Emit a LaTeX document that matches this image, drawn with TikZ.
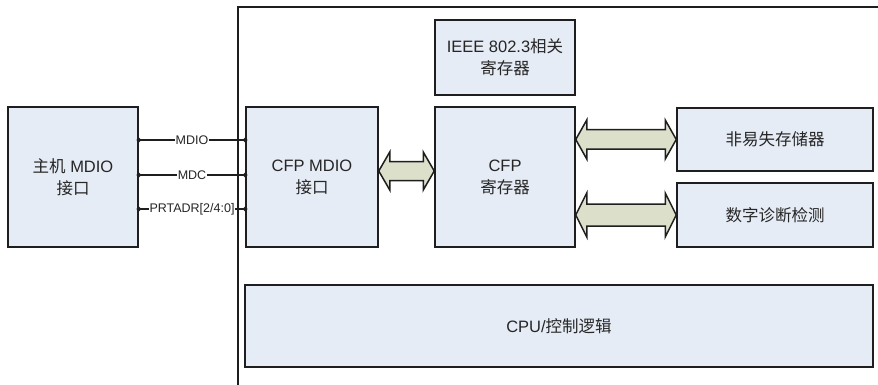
\documentclass[tikz,border=0pt]{standalone}
\usepackage{fontspec}
\setmainfont{Liberation Sans}
\newfontfamily\cjk{Noto Sans CJK SC}
\usetikzlibrary{arrows.meta,calc}
\definecolor{boxfill}{HTML}{E6ECF6}
\definecolor{arrfill}{HTML}{DCDFCA}
\definecolor{edge}{HTML}{1E1E1E}
\newcommand\zh[1]{{\cjk #1}}
% wide double arrow from node #2 to node #3, at the height of #4;
% #1 = half height of the head (shaft is about half of it)
\newcommand\widearrow[4][19]{%
  \coordinate (wa-s) at (#2.east |- #4);
  \coordinate (wa-e) at (#3.west |- #4);
  \draw[fatarr] (wa-s) -- ++(11,-#1) -- ++(0,#1/2) -- ($(wa-e)+(-11,-#1/2)$)
    -- ++(0,-#1/2) -- (wa-e) -- ++(-11,#1) -- ++(0,-#1/2)
    -- ($(wa-s)+(11,#1/2)$) -- ++(0,#1/2) -- cycle;}

\begin{document}
\begin{tikzpicture}[x=1pt,y=-1pt,
  blk/.style={draw=edge,fill=boxfill,line width=1.5pt,align=center,
    inner sep=0pt,text=black!85,font=\fontsize{16.5}{22}\selectfont},
  sig/.style={draw=edge,line width=1.2pt,
    {Circle[length=4.5pt]}-{Circle[length=4.5pt]},
    shorten <=-2.2pt,shorten >=-2.2pt},
  lab/.style={fill=white,inner sep=0.6pt,text=black!85,
    font=\fontsize{12.5}{14}\selectfont},
  fatarr/.style={draw=edge,fill=arrfill,line width=1.5pt,line join=miter}]
  \useasboundingbox (0,0) rectangle (878,385);
  % module frame
  \draw[edge,line width=1.5pt] (878,7) -| (238,385);
  % blocks
  \node[blk,minimum width=130,minimum height=140] (host) at (73,177)
    {\zh{主机} MDIO\\\zh{接口}};
  \node[blk,minimum width=132,minimum height=140] (cfpmdio) at (312,177)
    {CFP MDIO\\\zh{接口}};
  \node[blk,minimum width=140,minimum height=75] (ieee) at (505,57.5)
    {IEEE 802.3\zh{相关}\\\zh{寄存器}};
  \node[blk,minimum width=140,minimum height=140] (cfpreg) at (505,177)
    {CFP\\\zh{寄存器}};
  \node[blk,minimum width=196,minimum height=63] (nvm) at (775,139.5)
    {\zh{非易失存储器}};
  \node[blk,minimum width=196,minimum height=64] (ddm) at (775,215)
    {\zh{数字诊断检测}};
  \node[blk,minimum width=628,minimum height=82] (cpu) at (559,326)
    {CPU/\zh{控制逻辑}};
  % management signals
  \draw[sig] (host.east |- 0,140) -- node[lab] {MDIO} (cfpmdio.west |- 0,140);
  \draw[sig] (host.east |- 0,175) -- node[lab] {MDC} (cfpmdio.west |- 0,175);
  \draw[sig] (host.east |- 0,209) -- node[lab] {PRTADR[2/4:0]} (cfpmdio.west |- 0,209);
  % data paths
  \widearrow{cfpmdio}{cfpreg}{0,171}
  \widearrow[19.5]{cfpreg}{nvm}{nvm}
  \widearrow[22]{cfpreg}{ddm}{ddm}
\end{tikzpicture}
\end{document}
